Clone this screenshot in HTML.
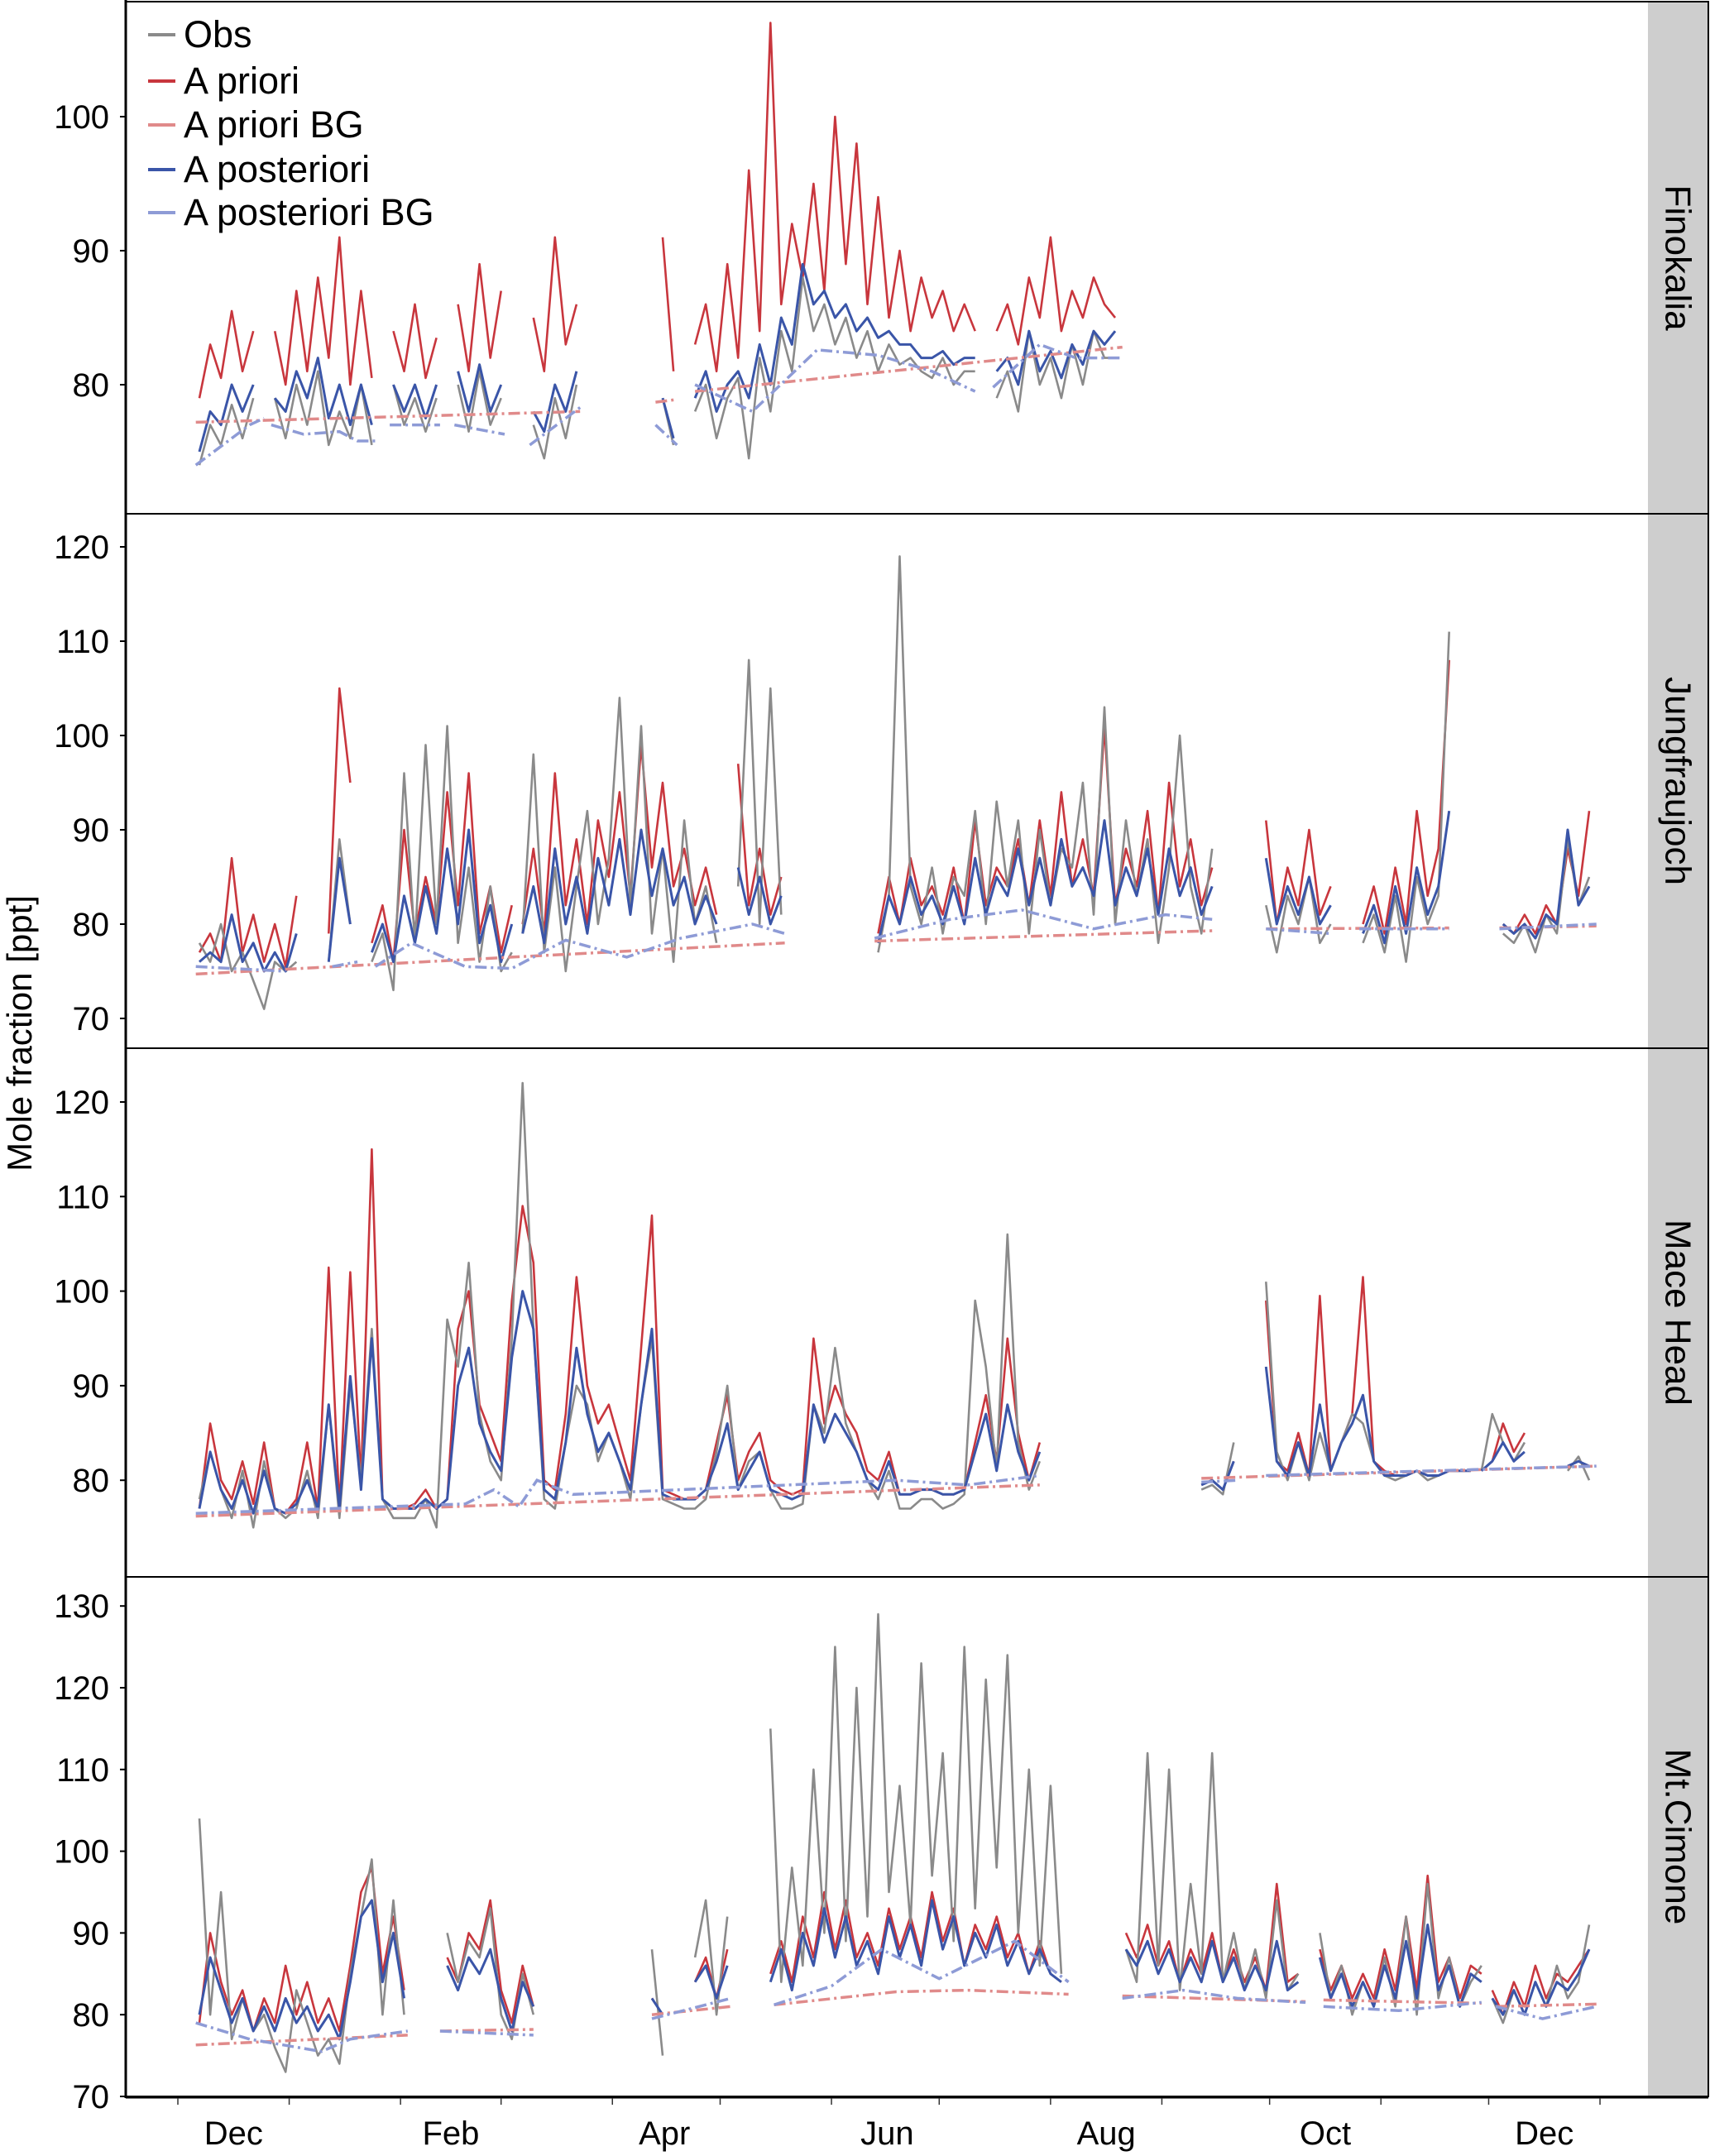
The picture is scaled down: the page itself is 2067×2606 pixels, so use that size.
<!DOCTYPE html>
<html><head><meta charset="utf-8"><style>
html,body{margin:0;padding:0;background:#fff}
svg{display:block}
text{font-family:"Liberation Sans",sans-serif;fill:#000}
</style></head><body>
<svg id="chart" width="2067" height="2606" viewBox="0 0 2067 2606">
<rect x="0" y="0" width="2067" height="2606" fill="#fff"/>
<g id="strips"></g>
<g id="series"></g>
<g id="frames"></g>
<g id="axes"></g>
<g id="legend">
  <line x1="179" y1="42" x2="212" y2="42" stroke="#8a8a8a" stroke-width="4"/>
  <text x="222" y="57" font-size="45">Obs</text>
  <line x1="179" y1="98" x2="212" y2="98" stroke="#c8363d" stroke-width="4"/>
  <text x="222" y="113" font-size="45">A priori</text>
  <line x1="179" y1="151" x2="212" y2="151" stroke="#e08a8a" stroke-width="4"/>
  <text x="222" y="166" font-size="45">A priori BG</text>
  <line x1="179" y1="205" x2="212" y2="205" stroke="#3a55a8" stroke-width="4"/>
  <text x="222" y="220" font-size="45">A posteriori</text>
  <line x1="179" y1="257" x2="212" y2="257" stroke="#8e9bd6" stroke-width="4"/>
  <text x="222" y="272" font-size="45">A posteriori BG</text>
</g>
<text x="38" y="1249" font-size="42" text-anchor="middle" transform="rotate(-90 38 1249)">Mole fraction [ppt]</text>
</svg>
<script>
// ---- data (days since 1 Dec 2014, 3-day step within segments) ----
const stations = ["Finokalia","Jungfraujoch","Mace Head","Mt.Cimone"];
const monthLabels = ["Dec","Feb","Apr","Jun","Aug","Oct","Dec"];
const monthLabelDays = [15.5,76,135.5,197.5,258.5,319.5,380.5];
const monthTickDays = [0,31,62,90,121,151,182,212,243,274,304,335,365,396];
const finoTicks = [80,90,100];
const jungTicks = [70,80,90,100,110,120];
const maceTicks = [80,90,100,110,120];
const cimTicks = [70,80,90,100,110,120,130];

const finoObs = [[6,[74,77,75.5,78.5,76,79]],[27,[79,76,80,77,81,75.5,78,76,80,75.5]],[60,[80,77,79,76.5,79]],[78,[80,76.5,81,77,79]],[99,[77,74.5,79,76,80]],[135,[79,75.5]],[144,[78,80,76,79,80.5,74.5,82,78,84,81,88,84,86,83,85,82,84,81,83,81.5,82,81,80.5,82,80,81,81]],[228,[79,81,78,84,80,82,79,83,80,84,82,82]]];
const finoPrior = [[6,[79,83,80.5,85.5,81,84]],[27,[84,80,87,81,88,82,91,80,87,80.5]],[60,[84,81,86,80.5,83.5]],[78,[86,81,89,82,87]],[99,[85,81,91,83,86]],[135,[91,81]],[144,[83,86,81,89,82,96,84,107,86,92,88,95,87,100,89,98,86,94,85,90,84,88,85,87,84,86,84]],[228,[84,86,83,88,85,91,84,87,85,88,86,85]]];
const finoPost = [[6,[75,78,77,80,78,80]],[27,[79,78,81,79,82,77.5,80,77,80,77]],[60,[80,78,80,77.5,80]],[78,[81,78,81.5,78,80]],[99,[78,76.5,80,78,81]],[135,[79,76]],[144,[79,81,78,80,81,79,83,80,85,83,89,86,87,85,86,84,85,83.5,84,83,83,82,82,82.5,81.5,82,82]],[228,[81,82,80,84,81,82.5,80.5,83,81.5,84,83,84]]];
const finoBgPrior = [[5,77.2],[112,78],null,[133,78.7],[139,78.9],null,[144,79.5],[263,82.8]];
const finoBgPost = [[5,74],[20,77],[24,77.5],null,[26,77],[35,76.3],[45,76.5],[50,75.8],[56,75.8],null,[59,77],[73,77],null,[77,77],[91,76.3],null,[98,75.5],[112,78.3],null,[133,77],[139,75.5],null,[144,80],[160,78],[178,82.6],[195,82.2],[210,81],[222,79.5],null,[227,79.8],[240,83],[250,82],[263,82]];

const jungObs = [[6,[78,76,80,75,77,74,71,76,75,76]],[42,[76,89,80]],[54,[76,79,73,96,78,99,80,101,78,86,76,84,75,77]],[96,[79,98,77,86,75,84,92,80,87,104,82,101,79,88,76,91,80,84,78]],[156,[84,108,80,105,81]],[195,[77,83,119,84,80,86,79,85,83,92,80,93,84,91,79,90,82,88,86,95,81,103,80,91,83,89,78,86,100,84,79,88]],[303,[82,77,83,80,85,78,80]],[330,[78,81,77,83,76,85,80,83,111]],[369,[79,78,80,77,81,79,89,82,85]]];
const jungPrior = [[6,[77,79,76,87,77,81,76,80,75.5,83]],[42,[79,105,95]],[54,[78,82,76,90,79,85,80,94,82,96,79,84,77,82]],[96,[80,88,79,96,82,89,80,91,85,94,83,99,86,95,84,88,82,86,81]],[156,[97,82,88,81,85]],[195,[79,85,80,87,82,84,81,86,80,91,82,86,84,89,82,91,83,94,84,89,83,101,82,88,84,92,81,95,84,89,82,86]],[303,[91,80,86,82,90,81,84]],[330,[80,84,79,86,80,92,83,88,108]],[369,[80,79,81,79,82,80,88,83,92]]];
const jungPost = [[6,[76,77,76,81,76,78,75,77,75,79]],[42,[76,87,80]],[54,[77,80,76,83,78,84,79,88,80,90,78,82,76,80]],[96,[79,84,78,88,80,85,79,87,82,89,81,90,83,88,82,85,80,83,80]],[156,[86,81,85,80,83]],[195,[78,83,80,85,81,83,80,84,80,87,81,85,83,88,82,87,82,89,84,86,83,91,82,86,83,88,81,88,83,86,81,84]],[303,[87,80,84,81,85,80,82]],[330,[79,82,78,84,79,86,81,84,92]],[369,[80,79,80,78.5,81,80,90,82,84]]];
const jungBgPrior = [[5,74.7],[93,76.5],[169,78],null,[194,78.2],[288,79.3],null,[303,79.5],[354,79.6],null,[368,79.6],[395,79.8]];
const jungBgPost = [[5,75.5],[30,75],null,[43,75.5],[50,76],null,[55,75.5],[65,78],[80,75.5],[93,75.3],[108,78.3],[125,76.5],[140,78.5],[160,80],[169,79],null,[194,78.5],[215,80.5],[235,81.5],[255,79.5],[275,81],[288,80.5],null,[303,79.5],[321,79],null,[329,79.5],[354,79.5],null,[368,79.5],[395,80]];

const maceObs = [[6,[78,83,79,76,81,75,82,77,76,77,81,76,88,76,90,80,96,78,76,76,76,78,75,97,92,103,87,82,80,95,122,96,78,77,84,90,88,82,85,82,78,88,95,78,77.5,77,77,78,83,90,79,82,83,79,77,77,77.5,88,85,94,86,83,80,78,81,77,77,78,78,77,77.5,78.5,99,92,81,106,84,79,82]],[285,[79,79.5,78.5,84]],[303,[101,83,80,84,80,85,81,84,87,86,82,80.5,80,80.5,81,80,80.5,81,81,81]],[363,[81,87,84,82,84]],[387,[81,82.5,80]]];
const macePrior = [[6,[77,86,80,78,82,77.5,84,77,76.5,78,84,77,102.5,77,102,80,115,78,77,77,77.5,79,77,78,96,100,88,85,82,99,109,103,80,79,87,101.5,90,86,88,84,80,94,108,79,78.5,78,78,79,84,89,80,83,85,80,79,78.5,79,95,86,90,87,85,81,80,83,78.5,78.5,79,79,78.5,78.5,79,84,89,82,95,85,80,84]],[285,[79.5,80,79,82]],[303,[99,82,81,85,80.5,99.5,81,84,87,101.5,82,81,80.5,80.5,81,80.5,80.5,81,81,81]],[363,[81,82,86,83,85]],[387,[81.5,82,81.5]]];
const macePost = [[6,[77,83,79,77,80,76.5,81,77,76.5,77.5,80,77,88,77,91,79,95,78,77,77,77,78,77,78,90,94,86,83,81,93,100,96,79,78,84,94,87,83,85,82,79,88,96,78.5,78,78,78,79,82,86,79,81,83,79,78.5,78,78.5,88,84,87,85,83,80,79,82,78.5,78.5,79,79,78.5,78.5,79,83,87,81,88,83,80,83]],[285,[79.5,80,79,82]],[303,[92,82,80.5,84,80.5,88,81,84,86,89,82,80.5,80.5,80.5,81,80.5,80.5,81,81,81]],[363,[81,82,84,82,83]],[387,[81.5,82,81.5]]];
const maceBgPrior = [[5,76.2],[240,79.5],null,[285,80.2],[395,81.5]];
const maceBgPost = [[5,76.5],[80,77.5],[88,79],[95,77.2],[100,80],[110,78.5],[200,80],[220,79.5],[240,80.5],null,[285,79.8],[295,80],null,[303,80.5],[395,81.5]];

const cimObs = [[6,[104,80,95,77,82,78,80,76,73,83,79,75,77,74,85,92,99,80,94,80]],[75,[90,84,89,87,93,80,77,85,80]],[132,[88,75]],[144,[87,94,80,92]],[165,[115,84,98,86,110,90,125,89,120,92,129,95,108,91,123,97,112,89,125,93,121,98,124,90,110,86,108,85]],[264,[88,84,112,86,110,83,96,85,112,84,90,83,88,82,94,83,85]],[318,[90,82,86,80,84,81,87,81,92,80,96,82,87,81,84,86]],[366,[82,79,83,80,84,81,86,82,84,91]]];
const cimPrior = [[6,[79,90,84,80,83,78,82,79,86,80,84,79,82,78,86,95,98,85,92,83]],[75,[87,84,90,88,94,83,79,86,81]],[132,[82,80]],[144,[84,87,82,88]],[165,[85,89,84,92,87,95,88,94,87,90,86,93,88,92,87,95,89,93,86,91,88,92,87,90,85,89,85,84]],[264,[90,87,91,86,89,84,88,85,90,84,88,84,87,83,96,84,85]],[318,[88,83,86,82,85,82,88,83,92,83,97,84,87,82,86,85]],[366,[83,80,84,81,86,82,85,84,86,88]]];
const cimPost = [[6,[80,87,83,79,82,78,81,78,82,79,81,78,80,77,84,92,94,84,90,82]],[75,[86,83,87,85,88,82,78,84,81]],[132,[82,80]],[144,[84,86,82,86]],[165,[84,88,83,90,86,93,87,92,86,89,85,92,87,91,86,94,88,92,86,90,87,91,86,89,85,88,85,84]],[264,[88,86,89,85,88,84,87,84,89,84,87,83,86,83,89,83,84]],[318,[87,82,85,81,84,81,86,82,89,82,91,83,86,81,85,84]],[366,[82,80,83,80,84,81,84,83,85,88]]];
const cimBgPrior = [[5,76.3],[64,77.5],null,[73,78],[99,78.2],null,[132,80],[154,81],null,[166,81.2],[200,82.8],[220,83],[248,82.5],null,[263,82.3],[314,81.6],null,[319,81.8],[363,81.4],null,[367,81],[395,81.3]];
const cimBgPost = [[5,79],[20,77],[40,75.5],[48,77],[64,78],null,[73,78],[99,77.5],null,[132,79.5],[154,82],null,[166,81.2],[182,83.5],[196,88],[212,84.4],[233,89],[248,84],null,[263,82],[280,83],[295,82],[314,81.5],null,[319,81],[340,80.5],[363,81.5],null,[367,81],[380,79.5],[395,81]];

// ---- layout ----
const NS = "http://www.w3.org/2000/svg";
const PL = 152, PR = 1992, SR = 2065;
const xDay = d => 215 + d * 4.341;
const panels = [
  {top:2,bot:621,v0:100,y0:141,k:16.2,ticks:finoTicks,obs:finoObs,prior:finoPrior,post:finoPost,bgp:finoBgPrior,bgq:finoBgPost},
  {top:621,bot:1267,v0:120,y0:661,k:11.4,ticks:jungTicks,obs:jungObs,prior:jungPrior,post:jungPost,bgp:jungBgPrior,bgq:jungBgPost},
  {top:1267,bot:1906,v0:120,y0:1332,k:11.43,ticks:maceTicks,obs:maceObs,prior:macePrior,post:macePost,bgp:maceBgPrior,bgq:maceBgPost},
  {top:1906,bot:2534,v0:70,y0:2534,k:9.88,ticks:cimTicks,obs:cimObs,prior:cimPrior,post:cimPost,bgp:cimBgPrior,bgq:cimBgPost}
];
function mk(tag, attrs, parent){const e=document.createElementNS(NS,tag);for(const k in attrs)e.setAttribute(k,attrs[k]);parent.appendChild(e);return e;}
const gS=document.getElementById('strips'), gSer=document.getElementById('series'), gF=document.getElementById('frames'), gA=document.getElementById('axes');
const defs = mk('defs',{},document.getElementById('chart'));

panels.forEach((p,pi)=>{
  const yv = v => p.y0 - (v - p.v0) * p.k;
  const slug = stations[pi].toLowerCase().replace(/[^a-z]+/g,'-');
  // strip
  const st = mk('rect',{x:PR,y:p.top,width:SR-PR,height:p.bot-p.top,fill:'#cecece'},gS);
  
  
  const cy=(p.top+p.bot)/2;
  const lbl = mk('text',{x:2028,y:cy,'font-size':44,'text-anchor':'middle','dominant-baseline':'central',transform:`rotate(90 2028 ${cy})`},gS);
  lbl.textContent = stations[pi];
  
  
  // clip
  const cp = mk('clipPath',{id:'cp'+pi},defs);
  mk('rect',{x:PL,y:p.top,width:PR-PL,height:p.bot-p.top},cp);
  const g = mk('g',{'clip-path':`url(#cp${pi})`},gSer);
  
  
  function segPath(segs){
    let d='';
    segs.forEach(([s,vals])=>{vals.forEach((v,i)=>{d+=(i?'L':'M')+xDay(s+3*i).toFixed(1)+' '+yv(v).toFixed(1);});});
    return d;
  }
  function ptPath(pts){
    let d='',start=true;
    pts.forEach(pt=>{if(pt===null){start=true;return;}d+=(start?'M':'L')+xDay(pt[0]).toFixed(1)+' '+yv(pt[1]).toFixed(1);start=false;});
    return d;
  }
  const lp = mk('path',{d:segPath(p.prior),fill:'none',stroke:'#c8363d','stroke-width':2.6,'stroke-linejoin':'round'},g);
  
  
  const lo = mk('path',{d:segPath(p.obs),fill:'none',stroke:'#8a8a8a','stroke-width':2.6,'stroke-linejoin':'round'},g);
  
  
  const lq = mk('path',{d:segPath(p.post),fill:'none',stroke:'#3a55a8','stroke-width':3,'stroke-linejoin':'round'},g);
  
  
  const bp = mk('path',{d:ptPath(p.bgp),fill:'none',stroke:'#e08a8a','stroke-width':3.5,'stroke-dasharray':'14 5 3 5'},g);
  
  
  const bq = mk('path',{d:ptPath(p.bgq),fill:'none',stroke:'#8e9bd6','stroke-width':3.5,'stroke-dasharray':'14 5 3 5'},g);
  
  
  // frame
  const fr = mk('rect',{x:PL,y:p.top,width:SR-PL,height:p.bot-p.top,fill:'none',stroke:'#000','stroke-width':2},gF);
  
  
  // y ticks
  p.ticks.forEach(t=>{
    const y=yv(t);
    mk('line',{x1:PL-7,y1:y,x2:PL,y2:y,stroke:'#000','stroke-width':2},gA);
    const tx = mk('text',{x:132,y:y+14,'font-size':40,'text-anchor':'end'},gA);
    tx.textContent = t;
    
    
  });
});
// left axis & bottom axis thick
mk('line',{x1:PL,y1:0,x2:PL,y2:2536,stroke:'#000','stroke-width':3},gA);
mk('line',{x1:PL,y1:2535,x2:SR,y2:2535,stroke:'#000','stroke-width':3},gA);
monthTickDays.forEach(d=>{mk('line',{x1:xDay(d),y1:2536,x2:xDay(d),y2:2544,stroke:'#333','stroke-width':1.5},gA);});
monthLabels.forEach((m,i)=>{
  const t = mk('text',{x:xDay(monthLabelDays[i]),y:2592,'font-size':40,'text-anchor':'middle'},gA);
  t.textContent = m;
  
  
});
</script>
</body></html>
